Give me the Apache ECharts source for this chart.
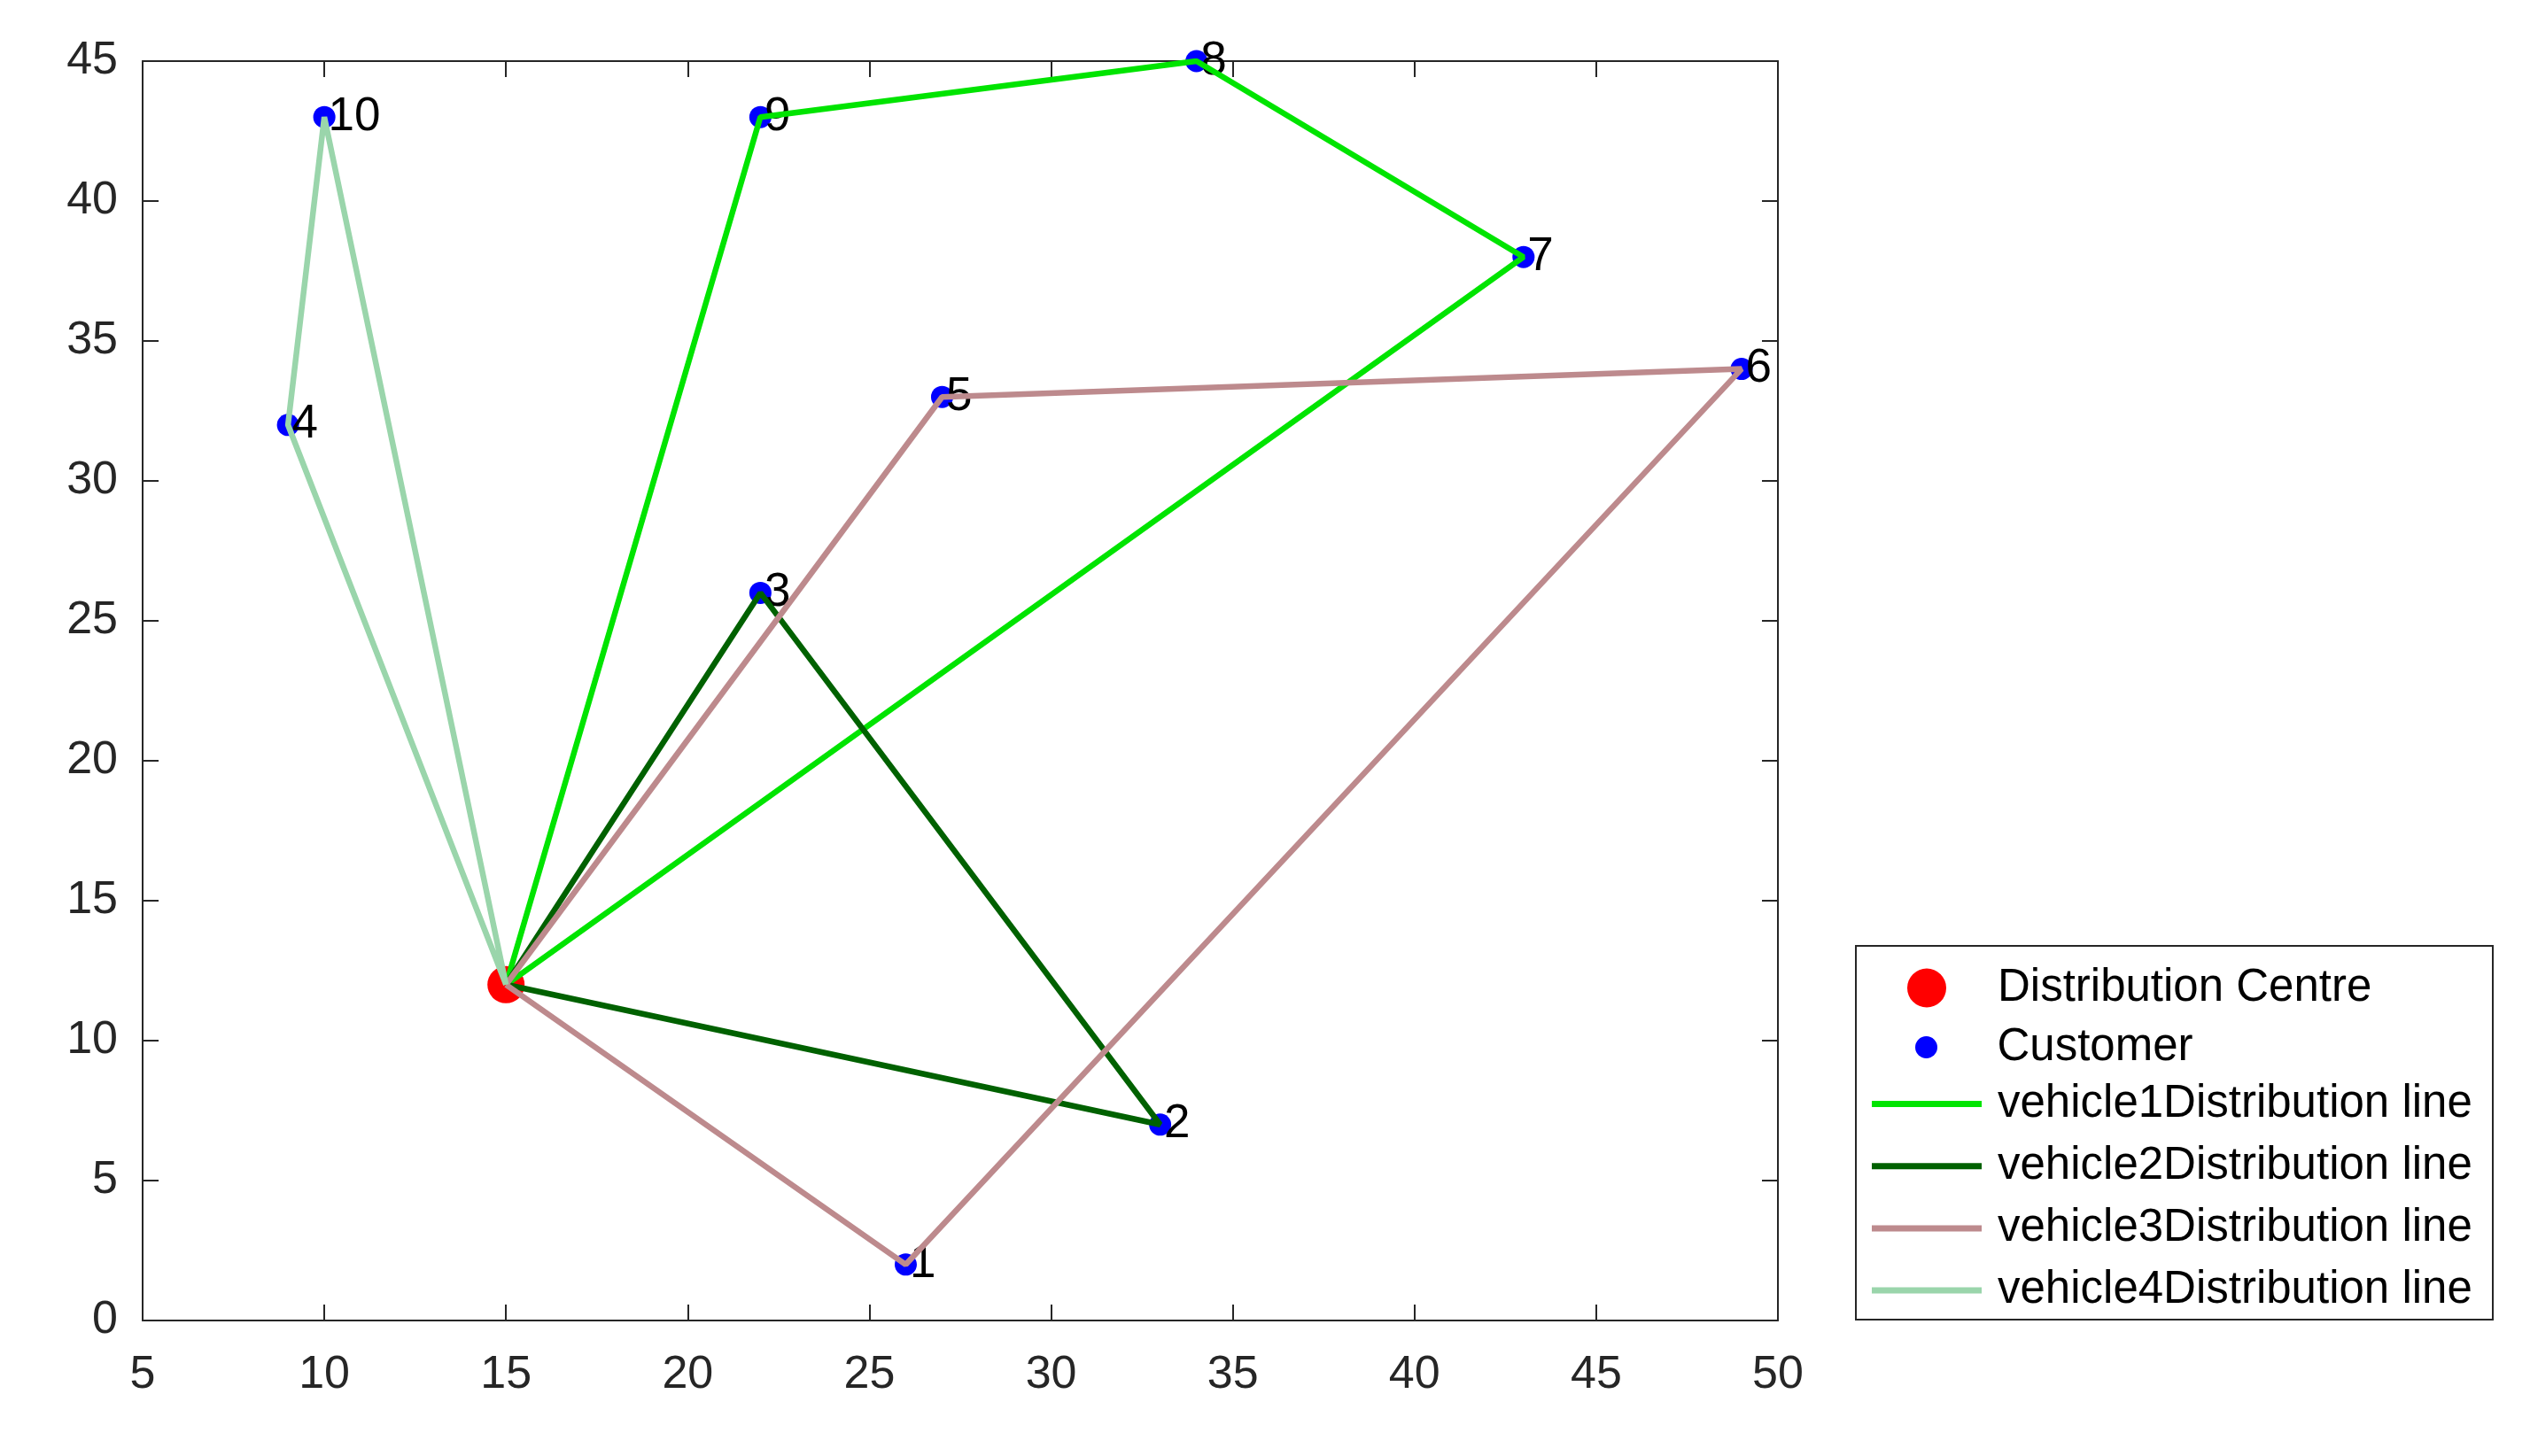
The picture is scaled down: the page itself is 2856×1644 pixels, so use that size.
<!DOCTYPE html>
<html>
<head>
<meta charset="utf-8">
<script src="https://cdn.jsdelivr.net/npm/echarts@6/dist/echarts.min.js"></script>
<style>
html,body{margin:0;padding:0;background:#fff;}
#chart{width:2856px;height:1644px;}
</style>
</head>
<body>
<div id="chart"></div>
<script>
// ---- data ----
const depotX = [15];
const depotY = [12];
const customerIds = ['1','2','3','4','5','6','7','8','9','10'];
const customerX = [26, 33, 22, 9, 27, 49, 43, 34, 22, 10];
const customerY = [2, 7, 26, 32, 33, 34, 38, 45, 43, 43];
// routes: 0 = distribution centre, n = customer n
const vehicle1Route = [0, 9, 8, 7, 0];
const vehicle2Route = [0, 3, 2, 0];
const vehicle3Route = [0, 5, 6, 1, 0];
const vehicle4Route = [0, 4, 10, 0];
const routeNames = ['vehicle1Distribution line','vehicle2Distribution line','vehicle3Distribution line','vehicle4Distribution line'];
const routeColors = ['#00e400', '#006100', '#bd8a8d', '#9ad5ab'];
const xTicks = {min: 5, max: 50, interval: 5};
const yTicks = {min: 0, max: 45, interval: 5};

function pt(n) {
  return n === 0 ? [depotX[0], depotY[0]] : [customerX[n-1], customerY[n-1]];
}
const routes = [vehicle1Route, vehicle2Route, vehicle3Route, vehicle4Route];

const FONT = '"Liberation Sans", Arial, Helvetica, sans-serif';
const AX = '#262626';

const chart = echarts.init(document.getElementById('chart'), null, {renderer: 'canvas'});

function axisCommon(showLabel, isX) {
  return {
    type: 'value',
    min: isX ? xTicks.min : yTicks.min,
    max: isX ? xTicks.max : yTicks.max,
    interval: isX ? xTicks.interval : yTicks.interval,
    splitLine: {show: false},
    axisLine: {show: true, onZero: false, lineStyle: {color: AX, width: 2}},
    axisTick: {show: true, inside: true, length: 18, lineStyle: {color: AX, width: 2}},
    axisLabel: {show: showLabel, color: AX, fontSize: 52, fontFamily: FONT,
                margin: isX ? 36 : 28, padding: isX ? 0 : [8, 0, 0, 0]},
  };
}

const series = [
  {
    name: 'Distribution Centre',
    type: 'scatter',
    data: depotX.map((x, i) => [x, depotY[i]]),
    symbol: 'circle',
    symbolSize: 42,
    itemStyle: {color: '#ff0000', opacity: 1},
    z: 2
  },
  {
    name: 'Customer',
    type: 'scatter',
    data: customerX.map((x, i) => [x, customerY[i]]),
    symbol: 'circle',
    symbolSize: 25,
    itemStyle: {color: '#0000ff', opacity: 1},
    label: {
      show: true,
      position: 'right',
      distance: -8,
      formatter: p => customerIds[p.dataIndex],
      fontSize: 53,
      fontFamily: FONT,
      color: '#000'
    },
    z: 2
  }
];
routes.forEach((r, i) => {
  series.push({
    name: routeNames[i],
    type: 'line',
    data: r.map(pt),
    symbol: 'none',
    color: routeColors[i],
    lineStyle: {color: routeColors[i], width: 6.5},
    z: 3
  });
});

const legendText = {fontSize: 51, fontFamily: FONT, color: '#000', lineHeight: 50, padding: [0, 0, 0, 13]};

chart.setOption({
  animation: false,
  backgroundColor: '#fff',
  grid: {left: 161, right: 849, top: 69, bottom: 153, containLabel: false},
  xAxis: [
    Object.assign(axisCommon(true, true), {position: 'bottom'}),
    Object.assign(axisCommon(false, true), {position: 'top'})
  ],
  yAxis: [
    Object.assign(axisCommon(true, false), {position: 'left'}),
    Object.assign(axisCommon(false, false), {position: 'right'})
  ],
  graphic: [{
    type: 'rect',
    shape: {x: 2095, y: 1068, width: 719, height: 422},
    style: {fill: '#fff', stroke: AX, lineWidth: 2},
    z: 0
  }],
  legend: [
    {
      data: ['Distribution Centre'],
      orient: 'vertical', left: 2153, top: 1090, padding: 0,
      itemWidth: 124, itemHeight: 44, icon: 'circle',
      textStyle: legendText, selectedMode: false
    },
    {
      data: ['Customer'],
      orient: 'vertical', left: 2162, top: 1157, padding: 0,
      itemWidth: 124, itemHeight: 25, icon: 'circle',
      textStyle: legendText, selectedMode: false
    },
    {
      data: routeNames,
      orient: 'vertical', left: 2113, top: 1221, padding: 0,
      itemWidth: 124, itemHeight: 7, itemGap: 19.2, icon: 'rect',
      textStyle: legendText, selectedMode: false
    }
  ],
  series: series
});
</script>
</body>
</html>
